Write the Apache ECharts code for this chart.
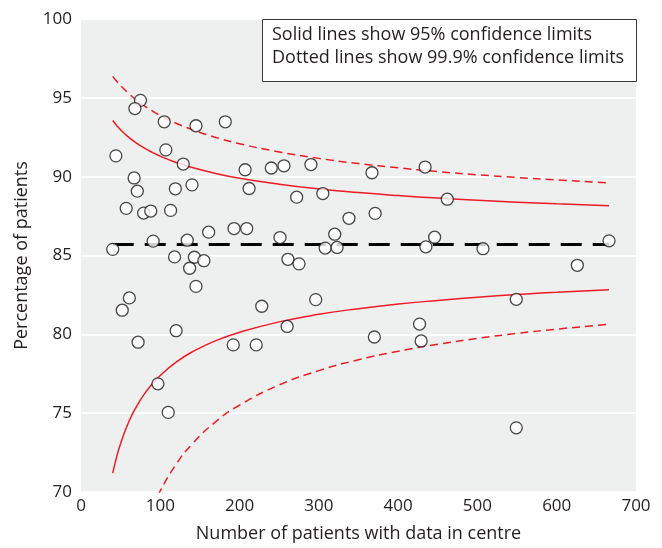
<!DOCTYPE html>
<html>
<head>
<meta charset="utf-8">
<script src="https://cdn.jsdelivr.net/npm/echarts@6/dist/echarts.min.js"></script>
<style>
  html, body { margin: 0; padding: 0; background: #ffffff; }
  #chart { width: 662px; height: 548px; }
</style>
</head>
<body>
<div id="chart"></div>
<script>
// Centres: number of patients with data, and percentage of patients
const centreSize = [75, 68, 105, 145, 182, 44, 107, 129, 67, 71, 119, 140, 57, 79, 88, 113, 161, 91, 134, 40,
  118, 143, 155, 137, 207, 212, 240, 256, 290, 272, 305, 193, 209, 251, 338, 320, 308, 323, 261, 275,
  367, 434, 462, 371, 446, 435, 507, 666, 626, 145, 61, 52, 120, 72, 97, 110, 228, 296, 260, 192,
  221, 370, 427, 429, 549, 549];
const centrePct = [94.84, 94.32, 93.48, 93.23, 93.48, 91.32, 91.70, 90.80, 89.92, 89.08, 89.23, 89.48, 87.99, 87.69, 87.82, 87.86, 86.48, 85.91, 85.97, 85.39,
  84.91, 84.89, 84.67, 84.19, 90.44, 89.25, 90.55, 90.69, 90.77, 88.70, 88.93, 86.71, 86.71, 86.14, 87.36, 86.35, 85.47, 85.51, 84.76, 84.47,
  90.25, 90.61, 88.57, 87.67, 86.16, 85.55, 85.43, 85.93, 84.38, 83.04, 82.31, 81.53, 80.23, 79.50, 76.86, 75.05, 81.78, 82.20, 80.50, 79.33,
  79.33, 79.83, 80.65, 79.58, 82.22, 74.07];

// Overall percentage across all centres
const overallPct = 85.7;
const overallRange = [40, 666];

// Control limits read along the funnel
const limitN    = [40, 45, 50, 60, 70, 80, 90, 100, 120, 140, 170, 200, 250, 300, 350, 400, 450, 500, 550, 600, 666];
const upper95   = [93.56, 93.25, 92.97, 92.51, 92.13, 91.81, 91.54, 91.30, 90.90, 90.58, 90.20, 89.90, 89.52, 89.22, 88.99, 88.80, 88.64, 88.50, 88.38, 88.28, 88.16];
const lower95   = [71.20, 72.23, 73.08, 74.42, 75.42, 76.22, 76.86, 77.39, 78.24, 78.88, 79.60, 80.13, 80.79, 81.27, 81.63, 81.92, 82.15, 82.35, 82.52, 82.67, 82.83];
const upper999  = [96.36, 96.05, 95.77, 95.28, 94.85, 94.49, 94.17, 93.88, 93.39, 92.99, 92.49, 92.09, 91.57, 91.16, 90.83, 90.56, 90.32, 90.12, 89.95, 89.79, 89.61];
const lower999  = [null, null, null, null, null, null, 69.00, 70.07, 71.76, 73.03, 74.46, 75.51, 76.79, 77.70, 78.39, 78.93, 79.37, 79.74, 80.06, 80.33, 80.64];

const xTicks = [0, 100, 200, 300, 400, 500, 600, 700];
const yTicks = [70, 75, 80, 85, 90, 95, 100];

const legendLines = [
  'Solid lines show 95% confidence limits',
  'Dotted lines show 99.9% confidence limits'
];

const FONT = '"Open Sans", "Noto Sans", sans-serif';
const TEXT = '#231f20';
const RED = '#ed1c24';

const pairs = (xs, ys) => xs.map((x, i) => [x, ys[i]]);

const chart = echarts.init(document.getElementById('chart'), null, { renderer: 'canvas' });

chart.setOption({
  animation: false,
  backgroundColor: '#ffffff',
  textStyle: { fontFamily: FONT },
  grid: {
    left: 81, top: 19, width: 555, height: 477,
    show: true, backgroundColor: '#eef0ef', borderWidth: 0
  },
  xAxis: {
    type: 'value',
    min: xTicks[0], max: xTicks[xTicks.length - 1], interval: 100,
    name: 'Number of patients with data in centre',
    nameLocation: 'middle', nameGap: 33,
    nameTextStyle: { fontSize: 18, color: TEXT, fontFamily: FONT },
    axisLine: { show: false }, axisTick: { show: false },
    splitLine: { show: false },
    axisLabel: { fontSize: 17, color: TEXT, margin: 6, fontFamily: FONT }
  },
  yAxis: {
    type: 'value',
    min: yTicks[0], max: yTicks[yTicks.length - 1], interval: 5,
    name: 'Percentage of patients',
    nameLocation: 'middle', nameGap: 50,
    nameTextStyle: { fontSize: 18, color: TEXT, fontFamily: FONT },
    axisLine: { show: false }, axisTick: { show: false },
    splitLine: { show: true, lineStyle: { color: '#ffffff', width: 2 } },
    axisLabel: { fontSize: 17, color: TEXT, margin: 9, fontFamily: FONT }
  },
  series: [
    { type: 'line', data: pairs(limitN, upper999), smooth: true, symbol: 'none', silent: true,
      lineStyle: { color: RED, width: 1.5, type: [8, 5] } },
    { type: 'line', data: pairs(limitN, lower999), smooth: true, symbol: 'none', silent: true,
      lineStyle: { color: RED, width: 1.5, type: [8, 5] } },
    { type: 'line', data: pairs(limitN, upper95), smooth: true, symbol: 'none', silent: true,
      lineStyle: { color: RED, width: 1.5 } },
    { type: 'line', data: pairs(limitN, lower95), smooth: true, symbol: 'none', silent: true,
      lineStyle: { color: RED, width: 1.5 } },
    { type: 'line', data: overallRange.map(n => [n, overallPct]), symbol: 'none', silent: true,
      lineStyle: { color: '#000000', width: 3, type: [21, 11] } },
    { type: 'scatter', data: pairs(centreSize, centrePct), symbol: 'circle', symbolSize: 12,
      itemStyle: { color: '#ffffff', borderColor: '#1a1a1a', borderWidth: 1.3 }, z: 5 }
  ],
  graphic: [
    { type: 'rect', left: 262, top: 19, z: 10,
      shape: { width: 374, height: 62 },
      style: { fill: '#ffffff', stroke: '#3a3a3a', lineWidth: 1 } },
    { type: 'text', left: 272, top: 26, z: 11,
      style: { text: legendLines[0], font: '18px ' + FONT, fill: TEXT } },
    { type: 'text', left: 272, top: 49, z: 11,
      style: { text: legendLines[1], font: '18px ' + FONT, fill: TEXT } }
  ]
});
</script>
</body>
</html>
